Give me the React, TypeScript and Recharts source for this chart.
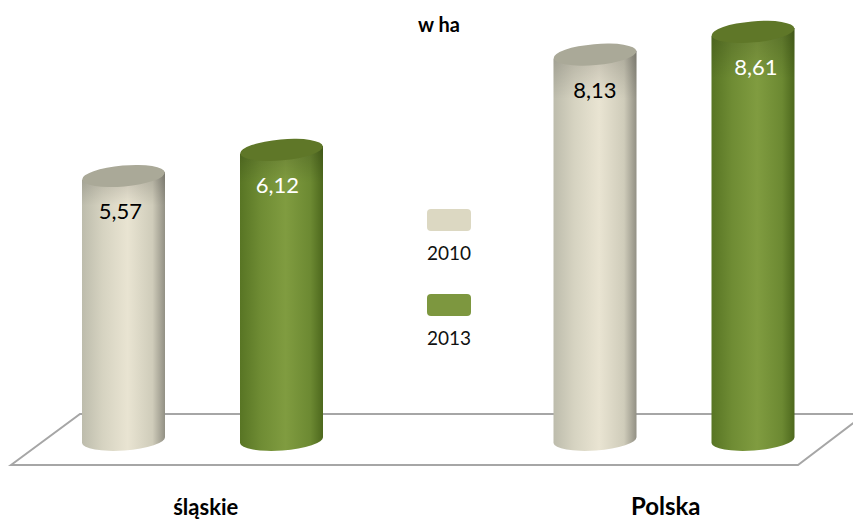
import { Bar, BarChart, LabelList, Legend, XAxis, YAxis } from "recharts";

const FONT = "Lato, sans-serif";

const categories = ["śląskie", "Polska"];
const years = ["2010", "2013"];
const values2010 = [5.57, 8.13];
const values2013 = [6.12, 8.61];

const tableData = categories.map((name, i) => ({
  name,
  y2010: values2010[i],
  y2013: values2013[i],
}));

const swatchColors = ["#dcd8c2", "#7d973f"];
const labelColors = ["#000000", "#ffffff"];

function cylinder(topFill: string) {
  return function CylinderShape(props: any) {
    const { x, y, width, height, fill } = props;
    const rx = width / 2;
    const ry = 10.5;
    const tilt = 4;
    const bottom = y + height;
    const body = `M${x},${y + tilt} L${x},${bottom + 3} A${rx},${ry} -4 0 0 ${x + width},${bottom - 3} L${x + width},${y - tilt} Z`;
    return (
      <g>
        <path d={body} fill={fill} />
        <path d={body} fill="url(#topShade)" />
        <ellipse
          cx={x + rx}
          cy={y}
          rx={rx}
          ry={ry}
          fill={topFill}
          transform={`rotate(-5 ${x + rx} ${y})`}
        />
      </g>
    );
  };
}

function CategoryTick({ x, y, payload, index }: any) {
  const big = index === 1;
  return (
    <text
      x={x + (big ? -8.5 : 3)}
      y={y + 67}
      textAnchor="middle"
      fontFamily={FONT}
      fontWeight={700}
      fontSize={big ? 24 : 22}
      fill="#000"
    >
      {payload.value}
    </text>
  );
}

function valueLabel(color: string, shifts: number[]) {
  return function ValueLabel({ x, y, width, value, index }: any) {
    return (
      <text
        x={x + width / 2 + shifts[index]}
        y={y + 35}
        textAnchor="middle"
        dominantBaseline="central"
        fontFamily={FONT}
        fontSize={22}
        fill={color}
      >
        {String(value).replace(".", ",")}
      </text>
    );
  };
}

function YearLegend() {
  return (
    <div style={{ width: 44, fontFamily: FONT, fontSize: 19, color: "#111" }}>
      {years.map((year, i) => (
        <div key={year} style={{ height: 85, textAlign: "center" }}>
          <div style={{ height: 22, borderRadius: 4, background: swatchColors[i] }} />
          <div style={{ marginTop: 10, lineHeight: "24px" }}>{year}</div>
        </div>
      ))}
    </div>
  );
}

export default function App() {
  return (
    <div style={{ position: "absolute", left: 0, top: 0, width: 853, height: 520, background: "#fff", overflow: "hidden" }}>
      <svg width={853} height={520} style={{ position: "absolute", left: 0, top: 0 }}>
        <polygon points="11,465 80,414 865,414 798,465" fill="none" stroke="#a6a6a6" strokeWidth={2} />
      </svg>
      <div
        style={{
          position: "absolute",
          left: 0,
          width: 853,
          top: 14,
          textAlign: "center",
          paddingLeft: 25,
          boxSizing: "border-box",
          fontFamily: FONT,
          fontWeight: 700,
          fontSize: 20,
          lineHeight: "20px",
        }}
      >
        w ha
      </div>
      <div style={{ position: "absolute", left: 0, top: 0 }}>
        <BarChart
          width={853}
          height={520}
          data={tableData}
          barSize={83}
          barGap={75}
          margin={{ top: 13.4, right: -57, bottom: 0, left: -33 }}
        >
          <defs>
            <linearGradient id="beigeBody" x1="0" y1="0" x2="1" y2="0">
              <stop offset="0" stopColor="#bdbcac" />
              <stop offset="0.25" stopColor="#d6d3c1" />
              <stop offset="0.55" stopColor="#e9e4d2" />
              <stop offset="0.85" stopColor="#cfccba" />
              <stop offset="1" stopColor="#929084" />
            </linearGradient>
            <linearGradient id="greenBody" x1="0" y1="0" x2="1" y2="0">
              <stop offset="0" stopColor="#587524" />
              <stop offset="0.25" stopColor="#6f8c34" />
              <stop offset="0.55" stopColor="#809c40" />
              <stop offset="0.85" stopColor="#6c8932" />
              <stop offset="1" stopColor="#4d681d" />
            </linearGradient>
            <linearGradient id="topShade" x1="0" y1="0" x2="0" y2="1">
              <stop offset="0" stopColor="#000" stopOpacity={0.18} />
              <stop offset="0.12" stopColor="#000" stopOpacity={0} />
            </linearGradient>
          </defs>
          <XAxis
            dataKey="name"
            axisLine={false}
            tickLine={false}
            height={80}
            interval={0}
            tick={<CategoryTick />}
          />
          <YAxis hide domain={[0, 9]} />
          <Legend
            layout="vertical"
            align="center"
            verticalAlign="middle"
            content={<YearLegend />}
            wrapperStyle={{ left: 427, top: 209, width: 44 }}
          />
          <Bar
            dataKey="y2010"
            name={years[0]}
            fill="url(#beigeBody)"
            shape={cylinder("#aaa998")}
            isAnimationActive={false}
          >
            <LabelList dataKey="y2010" content={valueLabel(labelColors[0], [-3, 0])} />
          </Bar>
          <Bar
            dataKey="y2013"
            name={years[1]}
            fill="url(#greenBody)"
            shape={cylinder("#5f7728")}
            isAnimationActive={false}
          >
            <LabelList dataKey="y2013" content={valueLabel(labelColors[1], [-4, 3])} />
          </Bar>
        </BarChart>
      </div>
    </div>
  );
}
